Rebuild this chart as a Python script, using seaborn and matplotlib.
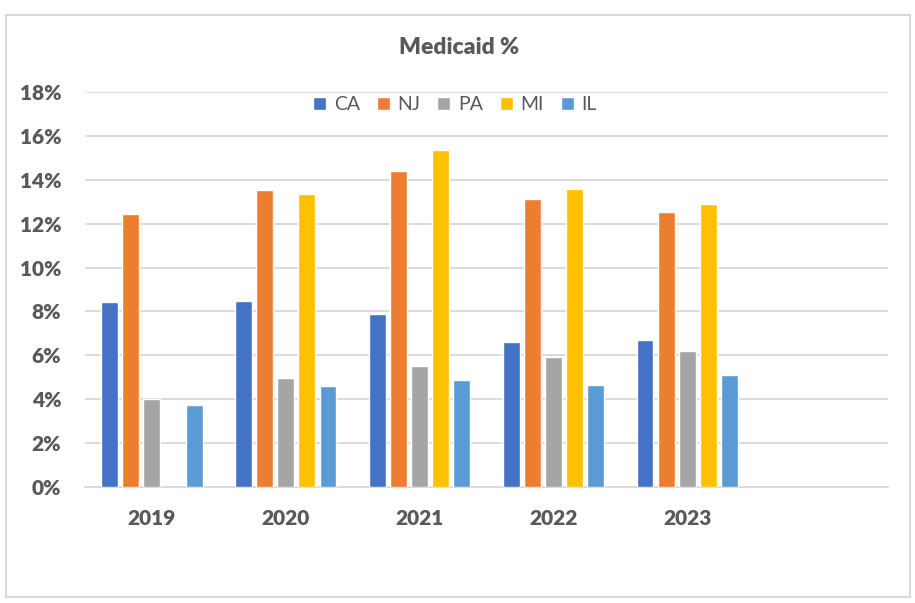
import pandas as pd
import numpy as np
import matplotlib
matplotlib.use('Agg')
import matplotlib.pyplot as plt
import seaborn as sns
from matplotlib.patches import Rectangle
from matplotlib.ticker import PercentFormatter

# Data
years = ['2019', '2020', '2021', '2022', '2023']
states = ['CA', 'NJ', 'PA', 'MI', 'IL']
ca = [8.42, 8.47, 7.87, 6.60, 6.69]
nj = [12.43, 13.53, 14.39, 13.12, 12.52]
pa = [4.00, 4.95, 5.50, 5.91, 6.19]
mi = [np.nan, 13.34, 15.35, 13.57, 12.89]
il = [3.72, 4.59, 4.86, 4.64, 5.09]
colors = ['#4472C4', '#ED7D31', '#A5A5A5', '#FFC000', '#5B9BD5']

df = pd.DataFrame({'Year': years, 'CA': ca, 'NJ': nj, 'PA': pa, 'MI': mi, 'IL': il})
df = df.melt(id_vars='Year', var_name='State', value_name='Pct')
df['Pct'] = df['Pct'] / 100

sns.set_theme(style='white')
plt.rcParams['font.family'] = ['Lato', 'DejaVu Sans']
grey = '#595959'

fig = plt.figure(figsize=(9.15, 6.03), dpi=100)
ax = fig.add_axes([85 / 915, 1 - 487 / 603, 803 / 915, 395 / 603])

sns.barplot(data=df, x='Year', y='Pct', hue='State', order=years, hue_order=states,
            palette=colors, saturation=1, width=0.79, gap=0.2, errorbar=None,
            ax=ax, zorder=3)

ax.set_xlim(-0.5, 5.5)
ax.set_ylim(0, 0.18)
ax.set_yticks(np.arange(0, 0.181, 0.02))
ax.yaxis.set_major_formatter(PercentFormatter(1.0, decimals=0))
ax.grid(axis='y', color='#D9D9D9', linewidth=1.3, zorder=0)
ax.set_axisbelow(True)
for s in ['top', 'right', 'left']:
    ax.spines[s].set_visible(False)
ax.spines['bottom'].set_color('#D9D9D9')
ax.spines['bottom'].set_linewidth(1.3)
ax.tick_params(axis='both', length=0, colors=grey, labelsize=15)
ax.tick_params(axis='y', pad=17)
ax.tick_params(axis='x', pad=16)
for lbl in ax.get_xticklabels() + ax.get_yticklabels():
    lbl.set_fontweight('heavy')
ax.set_xlabel('')
ax.set_ylabel('')

leg = ax.legend(loc='center', bbox_to_anchor=(455 / 915, 1 - 105 / 603),
                bbox_transform=fig.transFigure, ncol=5, frameon=False,
                fontsize=14, handlelength=0.68, handleheight=0.68,
                handletextpad=0.4, columnspacing=0.85)
for t in leg.get_texts():
    t.set_color(grey)

fig.text(459 / 915, 1 - 48 / 603, 'Medicaid %', ha='center', va='center',
         fontsize=16.5, fontweight='heavy', color=grey)

# outer chart border
fig.patches.append(Rectangle((6 / 915, 1 - 597 / 603), 904 / 915, 582 / 603,
                             transform=fig.transFigure, fill=False,
                             edgecolor='#D9D9D9', linewidth=1.5))

fig.savefig('out.png', dpi=100)
